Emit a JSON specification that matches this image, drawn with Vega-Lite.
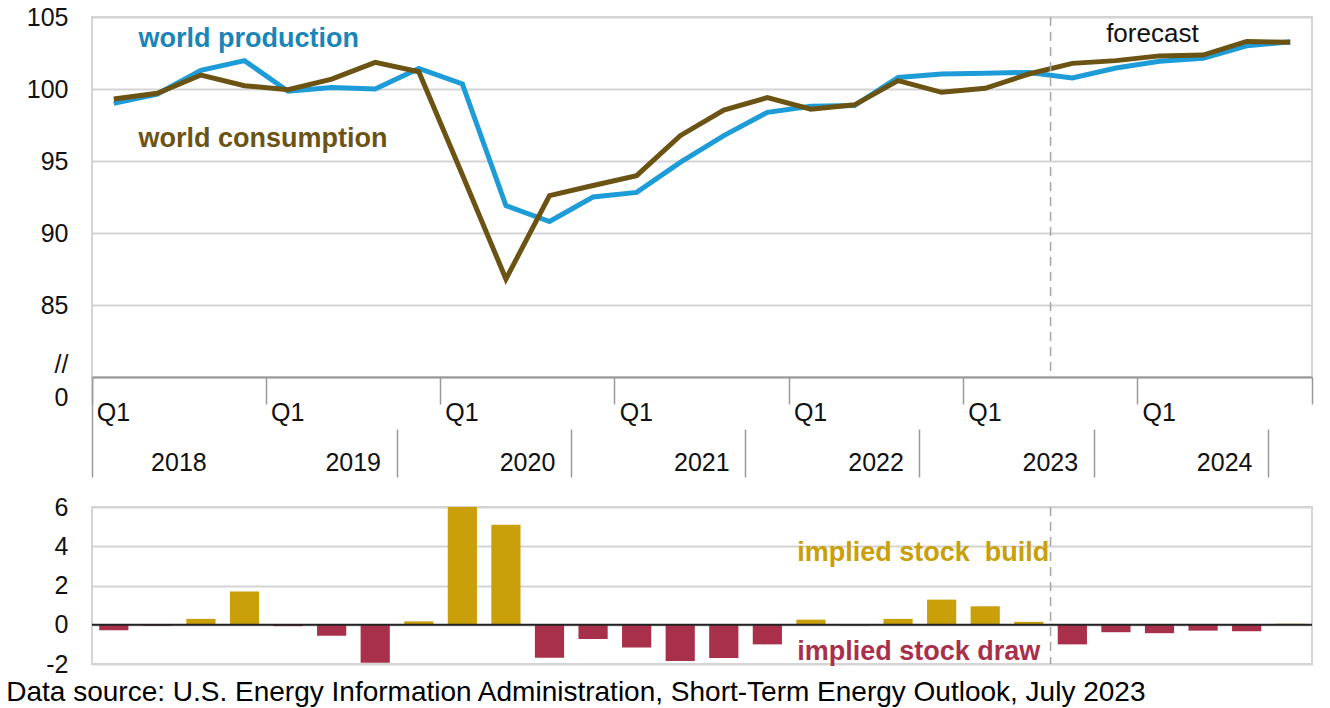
{
  "$schema": "https://vega.github.io/schema/vega-lite/v6.json",
  "padding": {"left": 6, "top": 4, "right": 17, "bottom": 0},
  "background": "white",
  "bounds": "flush",
  "spacing": 130,
  "config": {
    "font": "Liberation Sans",
    "view": {"stroke": "#d4d4d4", "strokeWidth": 2},
    "axis": {"labelFont": "Liberation Sans", "labelFontSize": 25, "labelColor": "#111111", "titleFont": "Liberation Sans"}
  },
  "title": {
    "text": "Data source: U.S. Energy Information Administration, Short-Term Energy Outlook, July 2023",
    "orient": "bottom", "anchor": "start", "fontSize": 28, "fontWeight": "normal",
    "color": "#000000", "offset": 1, "dx": -19, "font": "Liberation Sans"
  },
  "datasets": {
    "q": [
      {"quarter": "2018Q1", "production": 99.0, "consumption": 99.31, "build": -0.28},
      {"quarter": "2018Q2", "production": 99.65, "consumption": 99.7, "build": -0.05},
      {"quarter": "2018Q3", "production": 101.3, "consumption": 100.97, "build": 0.3},
      {"quarter": "2018Q4", "production": 101.97, "consumption": 100.23, "build": 1.7},
      {"quarter": "2019Q1", "production": 99.84, "consumption": 99.95, "build": -0.07},
      {"quarter": "2019Q2", "production": 100.1, "consumption": 100.69, "build": -0.56},
      {"quarter": "2019Q3", "production": 100.0, "consumption": 101.85, "build": -1.93},
      {"quarter": "2019Q4", "production": 101.43, "consumption": 101.2, "build": 0.17},
      {"quarter": "2020Q1", "production": 100.35, "consumption": 94.05, "build": 6.0},
      {"quarter": "2020Q2", "production": 91.9, "consumption": 86.8, "build": 5.1},
      {"quarter": "2020Q3", "production": 90.8, "consumption": 92.6, "build": -1.68},
      {"quarter": "2020Q4", "production": 92.5, "consumption": 93.3, "build": -0.73},
      {"quarter": "2021Q1", "production": 92.82, "consumption": 93.98, "build": -1.16},
      {"quarter": "2021Q2", "production": 94.9, "consumption": 96.76, "build": -1.85},
      {"quarter": "2021Q3", "production": 96.76, "consumption": 98.54, "build": -1.7},
      {"quarter": "2021Q4", "production": 98.38, "consumption": 99.4, "build": -1.0},
      {"quarter": "2022Q1", "production": 98.8, "consumption": 98.6, "build": 0.26},
      {"quarter": "2022Q2", "production": 98.85, "consumption": 98.9, "build": -0.04},
      {"quarter": "2022Q3", "production": 100.8, "consumption": 100.58, "build": 0.3},
      {"quarter": "2022Q4", "production": 101.04, "consumption": 99.77, "build": 1.28},
      {"quarter": "2023Q1", "production": 101.1, "consumption": 100.05, "build": 0.94},
      {"quarter": "2023Q2", "production": 101.15, "consumption": 101.04, "build": 0.15},
      {"quarter": "2023Q3", "production": 100.76, "consumption": 101.78, "build": -1.0},
      {"quarter": "2023Q4", "production": 101.46, "consumption": 101.97, "build": -0.38},
      {"quarter": "2024Q1", "production": 101.92, "consumption": 102.3, "build": -0.43},
      {"quarter": "2024Q2", "production": 102.13, "consumption": 102.36, "build": -0.3},
      {"quarter": "2024Q3", "production": 103.0, "consumption": 103.3, "build": -0.33},
      {"quarter": "2024Q4", "production": 103.28, "consumption": 103.24, "build": 0.05}
    ],
    "one": [{}]
  },
  "vconcat": [
    {
      "width": 1220,
      "height": 360,
      "resolve": {"axis": {"x": "independent", "y": "independent"}},
      "layer": [
        {
          "data": {"name": "q"},
          "mark": {"type": "line", "color": "#1E9CD7", "strokeWidth": 5},
          "encoding": {
            "x": {
              "field": "quarter", "type": "ordinal", "bandPosition": 0.5,
              "scale": {"type": "band", "paddingInner": 0, "paddingOuter": 0,
                "domain": ["2018Q1","2018Q2","2018Q3","2018Q4","2019Q1","2019Q2","2019Q3","2019Q4","2020Q1","2020Q2","2020Q3","2020Q4","2021Q1","2021Q2","2021Q3","2021Q4","2022Q1","2022Q2","2022Q3","2022Q4","2023Q1","2023Q2","2023Q3","2023Q4","2024Q1","2024Q2","2024Q3","2024Q4"]},
              "axis": {
                "orient": "bottom", "title": null, "grid": false,
                "values": ["2018Q1","2019Q1","2020Q1","2021Q1","2022Q1","2023Q1","2024Q1"],
                "bandPosition": 0, "domain": true, "domainColor": "#9a9a9a", "domainWidth": 2,
                "ticks": true, "tickSize": 27, "tickColor": "#9a9a9a", "tickWidth": 1.5,
                "labelExpr": "'Q1'", "labelAlign": "left", "labelBaseline": "middle",
                "labelPadding": 8, "labelOffset": -17, "labelAngle": 0, "labelOverlap": false
              }
            },
            "y": {
              "field": "production", "type": "quantitative",
              "scale": {"domain": [80, 105], "nice": false, "zero": false},
              "axis": {
                "title": null, "values": [80, 85, 90, 95, 100, 105],
                "grid": true, "gridColor": "#d4d4d4", "gridWidth": 2,
                "domain": false, "ticks": false, "labelPadding": 24,
                "labelExpr": "datum.value == 80 ? ['//', '0'] : datum.label",
                "labelOffset": {"condition": {"test": "datum.value == 80", "value": -13}, "value": 0},
                "labelLineHeight": 33, "labelOverlap": false, "labelBound": false, "labelFlush": false
              }
            }
          }
        },
        {
          "data": {"name": "q"},
          "mark": {"type": "line", "color": "#6B5413", "strokeWidth": 5},
          "encoding": {
            "x": {
              "field": "quarter", "type": "ordinal", "bandPosition": 0.5,
              "axis": {
                "orient": "bottom", "title": null, "grid": false,
                "values": ["2018Q3","2019Q3","2020Q3","2021Q3","2022Q3","2023Q3","2024Q3"],
                "bandPosition": 0, "ticks": false, "domain": false,
                "labelExpr": "substring(datum.value, 0, 4)", "labelAlign": "center",
                "labelBaseline": "middle", "labelPadding": 85, "labelOffset": -22, "labelAngle": 0, "labelOverlap": false
              }
            },
            "y": {"field": "consumption", "type": "quantitative", "axis": null}
          }
        },
        {
          "data": {"name": "one"},
          "mark": {"type": "rule", "color": "#a6a6a6", "strokeWidth": 1.5, "strokeDash": [9, 6]},
          "encoding": {
            "x": {
              "datum": "2023Q3", "type": "ordinal", "bandPosition": 0,
              "axis": {
                "orient": "bottom", "title": null, "grid": false,
                "values": ["2019Q4","2020Q4","2021Q4","2022Q4","2023Q4","2024Q4"],
                "bandPosition": 0, "offset": 52, "tickSize": 48, "tickColor": "#9a9a9a", "tickWidth": 1.5,
                "labels": false, "domain": false
              }
            }
          }
        },
        {
          "data": {"name": "one"},
          "mark": {"type": "text", "align": "left", "baseline": "middle", "fontSize": 27, "fontWeight": "bold", "color": "#1a85b8", "dx": 3},
          "encoding": {
            "x": {
              "datum": "2018Q2", "type": "ordinal", "bandPosition": 0,
              "axis": {
                "orient": "bottom", "title": null, "grid": false, "values": ["2018Q1"],
                "bandPosition": 0, "tickSize": 100, "tickColor": "#9a9a9a", "tickWidth": 1.5,
                "labels": false, "domain": false
              }
            },
            "y": {"datum": 103.47, "type": "quantitative", "axis": null},
            "text": {"value": "world production"}
          }
        },
        {
          "data": {"name": "one"},
          "mark": {"type": "text", "align": "left", "baseline": "middle", "fontSize": 27, "fontWeight": "bold", "color": "#6B5413", "dx": 3},
          "encoding": {
            "x": {
              "datum": "2018Q2", "type": "ordinal", "bandPosition": 0,
              "axis": {
                "orient": "bottom", "title": null, "grid": false, "values": ["2024Q4"],
                "bandPosition": 1, "tickSize": 27, "tickColor": "#9a9a9a", "tickWidth": 1.5,
                "labels": false, "domain": false
              }
            },
            "y": {"datum": 96.53, "type": "quantitative", "axis": null},
            "text": {"value": "world consumption"}
          }
        },
        {
          "data": {"name": "one"},
          "mark": {"type": "text", "align": "left", "baseline": "middle", "fontSize": 26, "color": "#111111", "dx": 12},
          "encoding": {
            "x": {"datum": "2023Q4", "type": "ordinal", "bandPosition": 0, "axis": null},
            "y": {"datum": 103.8, "type": "quantitative", "axis": null},
            "text": {"value": "forecast"}
          }
        }
      ]
    },
    {
      "width": 1220,
      "height": 157,
      "resolve": {"axis": {"x": "independent", "y": "independent"}},
      "layer": [
        {
          "data": {"name": "q"},
          "mark": {"type": "bar", "width": {"band": 0.67}, "clip": true},
          "encoding": {
            "x": {
              "field": "quarter", "type": "ordinal",
              "scale": {"type": "band", "paddingInner": 0, "paddingOuter": 0,
                "domain": ["2018Q1","2018Q2","2018Q3","2018Q4","2019Q1","2019Q2","2019Q3","2019Q4","2020Q1","2020Q2","2020Q3","2020Q4","2021Q1","2021Q2","2021Q3","2021Q4","2022Q1","2022Q2","2022Q3","2022Q4","2023Q1","2023Q2","2023Q3","2023Q4","2024Q1","2024Q2","2024Q3","2024Q4"]},
              "axis": null
            },
            "y": {
              "field": "build", "type": "quantitative",
              "scale": {"domain": [-2, 6], "nice": false, "zero": false},
              "axis": {
                "title": null, "values": [-2, 0, 2, 4, 6],
                "grid": true, "gridColor": "#d4d4d4", "gridWidth": 2,
                "domain": false, "ticks": false, "labelPadding": 24,
                "labelExpr": "toString(datum.value)",
                "labelOverlap": false, "labelBound": false, "labelFlush": false
              }
            },
            "color": {"condition": {"test": "datum.build >= 0", "value": "#C9A009"}, "value": "#A8304A"}
          }
        },
        {
          "data": {"name": "one"},
          "mark": {"type": "rule", "color": "#222222", "strokeWidth": 2},
          "encoding": {"y": {"datum": 0, "type": "quantitative", "axis": null}}
        },
        {
          "data": {"name": "one"},
          "mark": {"type": "rule", "color": "#a6a6a6", "strokeWidth": 1.5, "strokeDash": [9, 6]},
          "encoding": {"x": {"datum": "2023Q3", "type": "ordinal", "bandPosition": 0, "axis": null}}
        },
        {
          "data": {"name": "one"},
          "mark": {"type": "text", "align": "left", "baseline": "middle", "fontSize": 27, "fontWeight": "bold", "color": "#C9A009", "dx": 8},
          "encoding": {
            "x": {"datum": "2022Q1", "type": "ordinal", "bandPosition": 0, "axis": null},
            "y": {"datum": 3.65, "type": "quantitative", "axis": null},
            "text": {"value": "implied stock\u00a0 build"}
          }
        },
        {
          "data": {"name": "one"},
          "mark": {"type": "text", "align": "left", "baseline": "middle", "fontSize": 27, "fontWeight": "bold", "color": "#A8304A", "dx": 8},
          "encoding": {
            "x": {"datum": "2022Q1", "type": "ordinal", "bandPosition": 0, "axis": null},
            "y": {"datum": -1.4, "type": "quantitative", "axis": null},
            "text": {"value": "implied stock draw"}
          }
        }
      ]
    }
  ]
}
